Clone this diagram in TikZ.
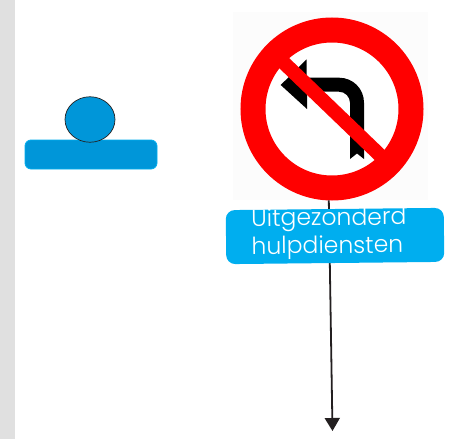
\documentclass[tikz,border=0pt]{standalone}
\usepackage{xcolor}
\usepackage{fontspec}
\setmainfont{Poppins Light}
\usetikzlibrary{arrows.meta,shapes.geometric}
\definecolor{signblue}{HTML}{00AEEF}
\definecolor{carblue}{HTML}{0096D9}
\definecolor{signred}{HTML}{FF0000}
\definecolor{poleblack}{HTML}{231F20}

\begin{document}
\begin{tikzpicture}[
    x=1pt,
    y=-1pt,
    margin/.style={
        fill=black!12,
        draw=none
    },
    carbody/.style={
        rectangle,
        draw=signblue,
        fill=carblue,
        rounded corners=6pt,
        minimum width=132pt,
        minimum height=29pt,
        line width=0.8pt
    },
    cartop/.style={
        ellipse,
        draw=poleblack,
        fill=carblue,
        inner sep=0pt,
        minimum width=50pt,
        minimum height=45.5pt,
        line width=0.7pt
    },
    ring/.style={
        circle,
        draw=signred,
        fill=white,
        inner sep=0pt,
        minimum size=158pt,
        line width=25pt
    },
    plate/.style={
        rectangle,
        fill=signblue,
        rounded corners=9pt,
        minimum width=218pt,
        minimum height=54pt,
        rotate=0.6
    },
    platetext/.style={
        text=white,
        align=left,
        font=\fontsize{23.5}{28}\selectfont,
        rotate=0.6
    },
    pole/.style={
        draw=poleblack,
        line width=1.8pt,
        -{Triangle[length=13pt,width=15pt]}
    }
]

    % --- Page ---
    \useasboundingbox (0,0) rectangle (461,439);
    \path [margin] (0,0) rectangle (15,439);

    % --- Left: car ---
    \node [carbody] (body) at (91,154.5) {};
    \node [cartop] (top) at (90,119.5) {};

    % --- Right: sign ---
    \path [fill=black!1] (233,12) rectangle (428,200);
    \node [ring] (sign) at (332,109) {};
    \coordinate (tip) at (332.5,431);

    % Pole runs behind the plate
    \draw [pole] (sign.-92) -- (tip);

    % Turn arrow
    \fill [black] (280.7,85) -- (306.7,59.3) -- (306.7,77.7) -- (339,77.7)
        .. controls (353,77.7) and (364,88.7) .. (364,102.7)
        -- (364,159) -- (357,153.5) -- (350,159) -- (350,102.7)
        .. controls (350,96.7) and (345,91.7) .. (339,91.7)
        -- (307,91.7) -- (307,109) -- cycle;

    % Bar across the arrow
    \fill [signred] (288,57) -- (386,151.2) -- (376,161.2) -- (278,67) -- cycle;

    % --- Plate ---
    \node [plate] (plate) at (335,236) {};
    \node [platetext, anchor=west] (platelabel) at (248,234.5) {Uitgezonderd\\hulpdiensten};

\end{tikzpicture}
\end{document}
